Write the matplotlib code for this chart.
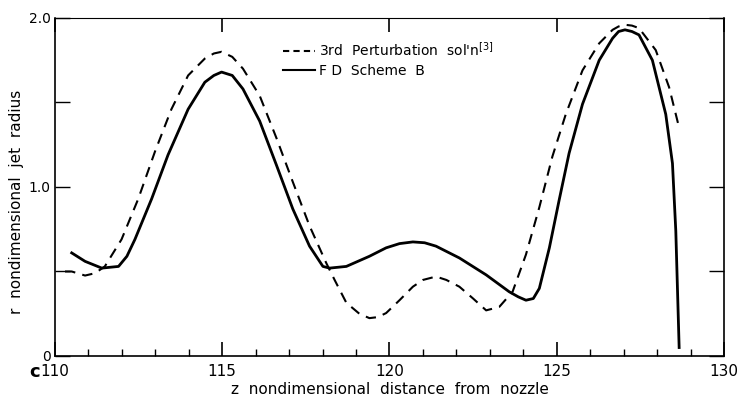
import numpy as np
import matplotlib.pyplot as plt
from matplotlib import rcParams
from matplotlib.lines import Line2D
from matplotlib.ticker import FixedLocator, MultipleLocator
rcParams['font.family'] = 'sans-serif'
rcParams['font.sans-serif'] = ['DejaVu Sans']
rcParams['font.size'] = 10

# FD Scheme B
z_fd = [110.50, 110.9, 111.4, 111.9, 112.15, 112.39, 112.89, 113.38, 113.98, 114.48,
        114.75, 114.98, 115.3, 115.62, 116.12, 116.62, 117.11, 117.61, 118.01, 118.21,
        118.71, 119.40, 119.90, 120.30, 120.70, 121.05, 121.39, 122.09, 122.89, 123.58,
        123.85, 124.08, 124.3, 124.48, 124.78, 125.07, 125.37, 125.77, 126.27, 126.67,
        126.85, 127.04, 127.25, 127.46, 127.86, 128.26, 128.46, 128.56, 128.66]
r_fd = [0.61, 0.56, 0.52, 0.53, 0.59, 0.69, 0.93, 1.19, 1.46, 1.62,
        1.66, 1.68, 1.66, 1.58, 1.39, 1.13, 0.87, 0.65, 0.53, 0.52,
        0.53, 0.59, 0.64, 0.665, 0.675, 0.67, 0.65, 0.58, 0.48, 0.38,
        0.35, 0.33, 0.34, 0.40, 0.64, 0.92, 1.20, 1.49, 1.75, 1.88,
        1.92, 1.93, 1.92, 1.90, 1.75, 1.43, 1.14, 0.74, 0.05]

# 3rd order perturbation solution
z_pt = [110.30, 110.50, 110.9, 111.2, 111.49, 111.99, 112.49, 112.99, 113.48, 113.98,
        114.48, 114.75, 114.98, 115.3, 115.62, 116.12, 116.62, 117.11, 117.61, 118.11,
        118.36, 118.71, 119.1, 119.40, 119.65, 119.90, 120.30, 120.70, 121.0, 121.39,
        121.7, 122.09, 122.5, 122.89, 123.28, 123.68, 124.08, 124.48, 124.87, 125.27,
        125.77, 126.27, 126.67, 126.85, 127.04, 127.25, 127.46, 127.96, 128.36, 128.66]
r_pt = [0.50, 0.50, 0.476, 0.49, 0.53, 0.69, 0.93, 1.21, 1.46, 1.66,
        1.76, 1.79, 1.80, 1.77, 1.70, 1.54, 1.29, 1.03, 0.77, 0.55,
        0.45, 0.315, 0.25, 0.224, 0.23, 0.254, 0.33, 0.41, 0.45, 0.47,
        0.45, 0.41, 0.34, 0.27, 0.29, 0.38, 0.60, 0.88, 1.18, 1.43,
        1.69, 1.85, 1.93, 1.95, 1.96, 1.955, 1.94, 1.81, 1.59, 1.35]

fig = plt.figure(figsize=(7.42, 3.99), dpi=100)
ax = fig.add_axes([0.0741, 0.1078, 0.9016, 0.8471])

ax.plot(z_pt, r_pt, color='k', linewidth=1.5, linestyle=(0, (5, 3.5)))
ax.plot(z_fd, r_fd, color='k', linewidth=2.0)

ax.set_xlim(110, 130)
ax.set_ylim(0, 2.0)

# bottom axis: labelled every 5, small ticks every 1
ax.xaxis.set_major_locator(FixedLocator([110, 115, 120, 125, 130]))
ax.xaxis.set_minor_locator(MultipleLocator(1))
ax.set_xticklabels(['110', '115', '120', '125', '130'])
ax.tick_params(axis='x', which='major', direction='in', length=10, width=1.2,
               labelsize=11, pad=6, top=True)
ax.tick_params(axis='x', which='minor', direction='in', length=5, width=1.0)

ax.yaxis.set_major_locator(FixedLocator([0, 0.5, 1.0, 1.5, 2.0]))
ax.set_yticklabels(['0', '', '1.0', '', '2.0'])
ax.tick_params(axis='y', which='major', direction='in', length=11, width=1.0,
               labelsize=10, pad=3, right=True)

for s in ax.spines.values():
    s.set_linewidth(1.2)
ax.spines['top'].set_linewidth(0.8)

ax.set_xlabel('z  nondimensional  distance  from  nozzle', fontsize=11)
ax.xaxis.set_label_coords(0.5, -0.076)
ax.set_ylabel('r  nondimensional  jet  radius', fontsize=11)
ax.yaxis.set_label_coords(-0.047, 0.456)

handles = [Line2D([], [], color='k', linewidth=1.5, linestyle=(0, (3, 2))),
           Line2D([], [], color='k', linewidth=1.5)]
ax.legend(handles, ["3rd  Perturbation  sol'n$^{[3]}$", 'F D  Scheme  B'],
          loc='upper left', bbox_to_anchor=(0.322, 0.97), frameon=False,
          handlelength=2.3, handletextpad=0.3, labelspacing=0.4, fontsize=10)

fig.text(0.047, 0.068, 'c', fontsize=13, fontweight='bold', ha='center', va='center')

plt.savefig('out.png', dpi=100, facecolor='w')
